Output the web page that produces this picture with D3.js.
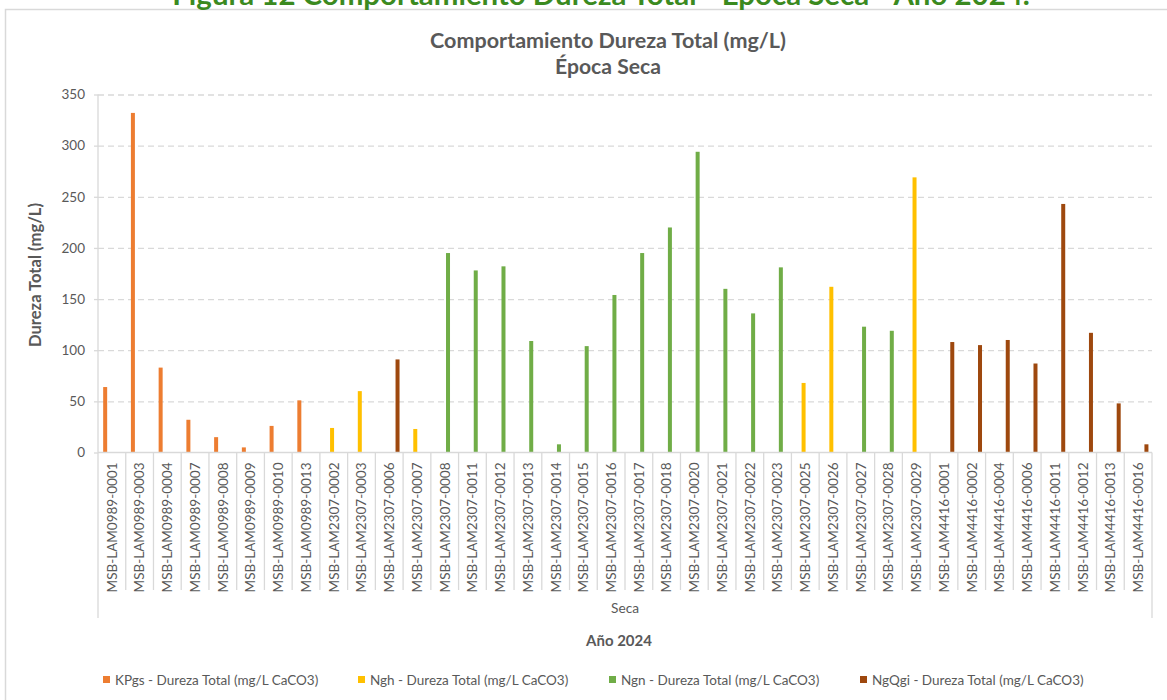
<!DOCTYPE html>
<html><head><meta charset="utf-8">
<script src="https://cdn.jsdelivr.net/npm/d3@7"></script>
<style>
html,body{margin:0;padding:0;background:#fff;}
svg{display:block;}
text{font-family:Lato,"Open Sans",sans-serif;}
</style></head>
<body>
<script>
const categories = [
"MSB-LAM0989-0001","MSB-LAM0989-0003","MSB-LAM0989-0004","MSB-LAM0989-0007","MSB-LAM0989-0008",
"MSB-LAM0989-0009","MSB-LAM0989-0010","MSB-LAM0989-0013","MSB-LAM2307-0002","MSB-LAM2307-0003",
"MSB-LAM2307-0006","MSB-LAM2307-0007","MSB-LAM2307-0008","MSB-LAM2307-0011","MSB-LAM2307-0012",
"MSB-LAM2307-0013","MSB-LAM2307-0014","MSB-LAM2307-0015","MSB-LAM2307-0016","MSB-LAM2307-0017",
"MSB-LAM2307-0018","MSB-LAM2307-0020","MSB-LAM2307-0021","MSB-LAM2307-0022","MSB-LAM2307-0023",
"MSB-LAM2307-0025","MSB-LAM2307-0026","MSB-LAM2307-0027","MSB-LAM2307-0028","MSB-LAM2307-0029",
"MSB-LAM4416-0001","MSB-LAM4416-0002","MSB-LAM4416-0004","MSB-LAM4416-0006","MSB-LAM4416-0011",
"MSB-LAM4416-0012","MSB-LAM4416-0013","MSB-LAM4416-0016"];
const seriesNames = ["KPgs","Ngh","Ngn","NgQgi"];
const seriesLabels = ["KPgs - Dureza Total (mg/L CaCO3)","Ngh - Dureza Total (mg/L CaCO3)","Ngn - Dureza Total (mg/L CaCO3)","NgQgi - Dureza Total (mg/L CaCO3)"];
const seriesColors = ["#ED7D31","#FFC000","#70AD47","#9E480E"];
const seriesOf = [
"KPgs","KPgs","KPgs","KPgs","KPgs","KPgs","KPgs","KPgs","Ngh","Ngh",
"NgQgi","Ngh","Ngn","Ngn","Ngn","Ngn","Ngn","Ngn","Ngn","Ngn",
"Ngn","Ngn","Ngn","Ngn","Ngn","Ngh","Ngh","Ngn","Ngn","Ngh",
"NgQgi","NgQgi","NgQgi","NgQgi","NgQgi","NgQgi","NgQgi","NgQgi"];
const values = [
64,332,83,32,15,5,26,51,24,60,
91,23,195,178,182,109,8,104,154,195,
220,294,160,136,181,68,162,123,119,269,
108,105,110,87,243,117,48,8];
const yTicks = [0,50,100,150,200,250,300,350];
const groupLabel = "Seca";
const xTitle = "Año 2024";
const yTitle = "Dureza Total (mg/L)";
const chartTitle = ["Comportamiento Dureza Total (mg/L)","Época Seca"];
const figTitle = "Figura 12 Comportamiento Dureza Total - Época Seca - Año 2024.";

const W = 1167, H = 700;
const svg = d3.select("body").append("svg").attr("width",W).attr("height",H);
const txt = "#595959", grid = "#d9d9d9";

function fitText(sel, targetW){
  sel.each(function(){
    const s = d3.select(this);
    const w = this.getComputedTextLength();
    const fs = parseFloat(s.attr("font-size"));
    s.attr("font-size", fs*targetW/w);
  });
}

// chart border
svg.append("rect").attr("x",5.5).attr("y",9.5).attr("width",1170).attr("height",700)
  .attr("fill","none").attr("stroke","#d9d9d9").attr("stroke-width",1.5);

// figure title (cut off at top, as in the reference)
const ft = svg.append("text").attr("x",601).attr("y",5).attr("text-anchor","middle")
  .attr("font-size",24).attr("font-weight","bold").attr("fill","#3B8A1F").text(figTitle);
fitText(ft, 858);

// chart title
const t1 = svg.append("text").attr("x",608).attr("y",48).attr("text-anchor","middle")
  .attr("font-size",19).attr("font-weight","bold").attr("fill",txt).text(chartTitle[0]);
fitText(t1, 356);
const t2 = svg.append("text").attr("x",608).attr("y",74).attr("text-anchor","middle")
  .attr("font-size",19).attr("font-weight","bold").attr("fill",txt).text(chartTitle[1]);
fitText(t2, 106);

const x0 = 98, x1 = 1152, yTop = 94.5, yBot = 452.5;
const x = d3.scaleBand().domain(categories).range([x0,x1]).paddingInner(0).paddingOuter(0);
const bw = x.bandwidth();
const xs = d3.scaleBand().domain(seriesNames).range([bw/2-10+0.8, bw/2+10+0.8]);
const y = d3.scaleLinear().domain([0,350]).range([yBot,yTop]);

// gridlines
const yAxis = d3.axisLeft(y).tickValues(yTicks).tickSize(0).tickPadding(0).tickFormat(d3.format("d"));
const ga = svg.append("g").attr("transform",`translate(${x0},0)`).call(yAxis);
ga.select(".domain").remove();
ga.selectAll(".tick text").attr("x",-13).attr("font-size",13.5).attr("fill",txt)
  .attr("font-family","Lato,'Open Sans',sans-serif");
ga.selectAll(".tick").filter(d=>d>0).append("line").attr("x1",0).attr("x2",x1-x0)
  .attr("stroke",grid).attr("stroke-width",1.3).attr("stroke-dasharray","6,4");
ga.selectAll(".tick").append("line").attr("x1",-4).attr("x2",0).attr("stroke",grid).attr("stroke-width",1.3);
// y axis line
svg.append("line").attr("x1",x0).attr("x2",x0).attr("y1",yTop).attr("y2",yBot)
  .attr("stroke",grid).attr("stroke-width",1.3);

// bars
svg.append("g").selectAll("rect").data(categories).join("rect")
  .attr("x",(d,i)=>x(d)+xs(seriesOf[i])+xs.bandwidth()/2-2)
  .attr("width",4)
  .attr("y",(d,i)=>y(values[i]))
  .attr("height",(d,i)=>y(0)-y(values[i]))
  .attr("fill",(d,i)=>seriesColors[seriesNames.indexOf(seriesOf[i])]);

// x axis line
svg.append("line").attr("x1",x0).attr("x2",x1).attr("y1",yBot).attr("y2",yBot)
  .attr("stroke",grid).attr("stroke-width",1.5);

// category separators
const seps = categories.map((d)=>x(d)).concat([x1]);
svg.append("g").selectAll("line").data(seps).join("line")
  .attr("x1",d=>d).attr("x2",d=>d).attr("y1",yBot)
  .attr("y2",(d,i)=> (i===0||i===seps.length-1)?618:590)
  .attr("stroke",grid).attr("stroke-width",1.3);

// category labels
const xAxis = d3.axisBottom(x).tickSize(0).tickPadding(0);
const gx = svg.append("g").attr("transform",`translate(0,${yBot})`).call(xAxis);
gx.select(".domain").remove();
gx.selectAll(".tick text")
  .attr("transform","rotate(-90)")
  .attr("text-anchor","end").attr("x",-10).attr("y",0).attr("dy","0.36em")
  .attr("font-size",13.5).attr("fill",txt).attr("font-family","Lato,'Open Sans',sans-serif");

// group label and axis title
const gl = svg.append("text").attr("x",625).attr("y",613).attr("text-anchor","middle")
  .attr("font-size",13).attr("fill",txt).text(groupLabel);
fitText(gl, 28);
const xt = svg.append("text").attr("x",619).attr("y",646).attr("text-anchor","middle")
  .attr("font-size",14).attr("font-weight","bold").attr("fill",txt).text(xTitle);
fitText(xt, 66);

// y title
const yt = svg.append("text").attr("transform",`translate(41,275) rotate(-90)`).attr("text-anchor","middle")
  .attr("font-size",14).attr("font-weight","bold").attr("fill",txt).text(yTitle);
fitText(yt, 144);

// legend
const legX = [103,358,609,860];
const lg = svg.append("g").selectAll("g").data(seriesLabels).join("g")
  .attr("transform",(d,i)=>`translate(${legX[i]},0)`);
lg.append("rect").attr("x",0).attr("y",676).attr("width",7).attr("height",7)
  .attr("fill",(d,i)=>seriesColors[i]);
const lt = lg.append("text").attr("x",12).attr("y",685).attr("font-size",13.5).attr("fill",txt).text(d=>d);
</script>
</body></html>
